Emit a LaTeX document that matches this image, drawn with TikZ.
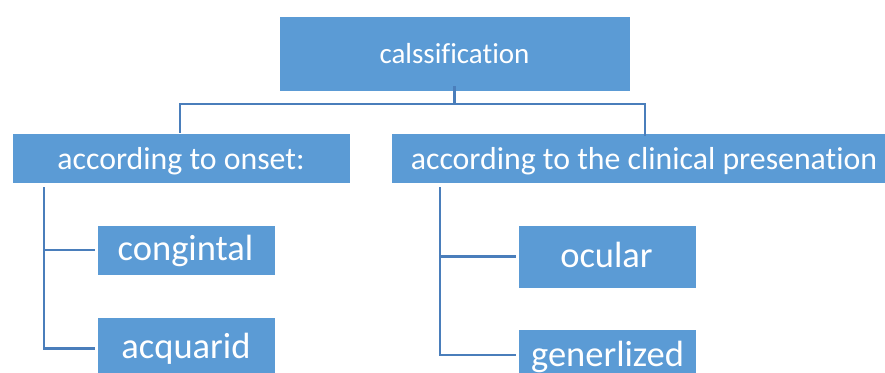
\documentclass[tikz,border=0pt]{standalone}
\usepackage{fontspec}
\newfontfamily\carl[Ligatures={NoCommon}]{Carlito}
\definecolor{boxblue}{HTML}{5B9BD5}
\definecolor{lineblue}{HTML}{4A7EBB}
\begin{document}
\begin{tikzpicture}[x=1pt,y=-1pt,
  box/.style={fill=boxblue,draw=white,line width=0.6pt,inner sep=0pt,rectangle},
  lbl/.style={text=white,inner sep=0pt,anchor=base},
  conn/.style={draw=lineblue,line width=2.5pt}]
\clip (0,0) rectangle (885,372);
\fill[white] (0,0) rectangle (885,372);
% boxes
\node[box,minimum width=351pt,minimum height=75pt] (top) at (454.5,53.5) {};
\node[box,minimum width=338pt,minimum height=50pt] (lm) at (181,158) {};
\node[box,minimum width=508pt,minimum height=50pt] (rm) at (645,158) {};
\node[box,minimum width=178pt,minimum height=50pt] (c1) at (186,250) {};
\node[box,minimum width=178pt,minimum height=63pt] (c2) at (186,348.5) {};
\node[box,minimum width=178pt,minimum height=63pt] (o1) at (607,256.5) {};
\node[box,minimum width=178pt,minimum height=63pt] (o2) at (607,360.5) {};
% labels
\node[lbl,font=\carl\fontsize{29}{34}\selectfont] (ttop) at (454.5,63) {calssification};
\node[lbl,font=\carl\fontsize{31.8}{38}\selectfont] (tlm) at (181,169) {according to onset:};
\node[lbl,font=\carl\fontsize{31.8}{38}\selectfont] (trm) at (644,169) {according to the clinical presenation};
\node[lbl,font=\carl\fontsize{36.5}{44}\selectfont] (tc1) at (185.5,260) {congintal};
\node[lbl,font=\carl\fontsize{36.5}{44}\selectfont] (tc2) at (186,358) {acquarid};
\node[lbl,font=\carl\fontsize{36.5}{44}\selectfont] (to1) at (606.5,267) {ocular};
\node[lbl,font=\carl\fontsize{36.5}{44}\selectfont] (to2) at (607.5,366.5) {generlized};
% connectors
\coordinate (tjoin) at ([yshift=5pt]top.south);
\draw[conn] (tjoin) -- ++(0,17.5) -| ([xshift=-1pt]lm.north);
\draw[conn] (tjoin) -- ++(0,17.5) -| ([yshift=-3pt]rm.north);
\coordinate (lstart) at (44,187);
\coordinate (rstart) at (440,187);
\draw[conn] (lstart) |- ([xshift=-2pt]c1.west);
\draw[conn] (lstart) |- ([xshift=-2pt,yshift=0.5pt]c2.west |- 0,349);
\draw[conn] (rstart) |- ([xshift=-2pt]o1.west);
\draw[conn] (rstart) |- ([xshift=-2pt]o2.west |- 0,355);
\end{tikzpicture}
\end{document}
